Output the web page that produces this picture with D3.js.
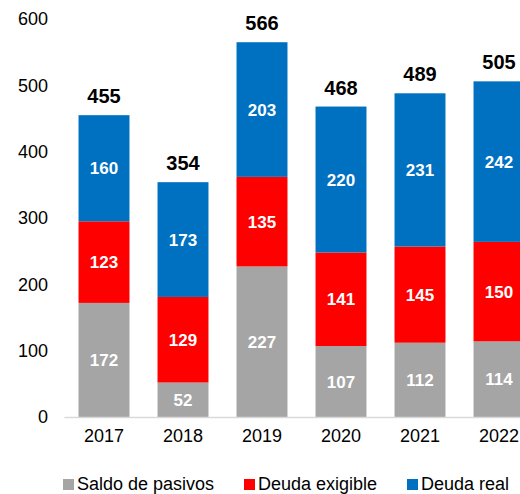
<!DOCTYPE html>
<html>
<head>
<meta charset="utf-8">
<script src="https://cdn.jsdelivr.net/npm/d3@7"></script>
<style>
  html, body { margin: 0; padding: 0; background: #fff; }
  svg { display: block; font-family: Arial, "Liberation Sans", sans-serif; }
</style>
</head>
<body>
<svg id="chart" width="520" height="494"></svg>
<script>
// Stacked composition by year
const years = ["2017", "2018", "2019", "2020", "2021", "2022"];
const saldoPasivos = [172, 52, 227, 107, 112, 114];
const deudaExigible = [123, 129, 135, 141, 145, 150];
const deudaReal = [160, 173, 203, 220, 231, 242];
const totals = [455, 354, 566, 468, 489, 505];
const seriesNames = ["Saldo de pasivos", "Deuda exigible", "Deuda real"];
const seriesColors = ["#A5A5A5", "#FF0000", "#0070C0"];
const yTicks = [0, 100, 200, 300, 400, 500, 600];

const svg = d3.select("#chart");
const plot = { left: 64.5, right: 538.5, top: 19, bottom: 417 };

const x = d3.scaleBand()
  .domain(years)
  .range([plot.left, plot.right])
  .paddingInner(0.355)
  .paddingOuter(0.1775);

const y = d3.scaleLinear()
  .domain([0, 600])
  .range([plot.bottom, plot.top]);

const rows = years.map((yr, i) => ({
  year: yr,
  s0: saldoPasivos[i],
  s1: deudaExigible[i],
  s2: deudaReal[i]
}));
const stack = d3.stack().keys(["s0", "s1", "s2"]);
const layers = stack(rows);

// bars
const g = svg.append("g");
layers.forEach((layer, li) => {
  const lg = g.append("g").attr("fill", seriesColors[li]);
  lg.selectAll("rect")
    .data(layer)
    .join("rect")
    .attr("x", d => x(d.data.year))
    .attr("width", x.bandwidth())
    .attr("y", d => y(d[1]))
    .attr("height", d => y(d[0]) - y(d[1]));

  // segment value labels
  g.append("g").selectAll("text")
    .data(layer)
    .join("text")
    .attr("x", d => x(d.data.year) + x.bandwidth() / 2)
    .attr("y", d => (y(d[0]) + y(d[1])) / 2)
    .attr("dy", "0.36em")
    .attr("text-anchor", "middle")
    .attr("fill", "#fff")
    .attr("font-weight", "bold")
    .attr("font-size", 17)
    .text(d => d[1] - d[0]);
});

// baseline
svg.append("line")
  .attr("x1", plot.left).attr("x2", plot.right)
  .attr("y1", y(0) + 0.5).attr("y2", y(0) + 0.5)
  .attr("stroke", "#D9D9D9")
  .attr("stroke-width", 1.5);

// total labels above each bar
svg.append("g").selectAll("text")
  .data(years)
  .join("text")
  .attr("x", d => x(d) + x.bandwidth() / 2)
  .attr("y", (d, i) => y(saldoPasivos[i] + deudaExigible[i] + deudaReal[i]) - 12)
  .attr("text-anchor", "middle")
  .attr("fill", "#000")
  .attr("font-weight", "bold")
  .attr("font-size", 20)
  .text((d, i) => totals[i]);

// y axis labels (no axis line)
const yAxis = d3.axisLeft(y).tickValues(yTicks).tickSize(0).tickPadding(0);
const ya = svg.append("g")
  .attr("transform", `translate(48,0)`)
  .call(yAxis);
ya.select(".domain").remove();
ya.selectAll("text")
  .attr("font-size", 18)
  .attr("font-family", "Arial, 'Liberation Sans', sans-serif")
  .attr("fill", "#000");

// x axis labels
const xAxis = d3.axisBottom(x).tickSize(0).tickPadding(0);
const xa = svg.append("g")
  .attr("transform", `translate(0,${plot.bottom + 12})`)
  .call(xAxis);
xa.select(".domain").remove();
xa.selectAll("text")
  .attr("font-size", 18)
  .attr("font-family", "Arial, 'Liberation Sans', sans-serif")
  .attr("fill", "#000");

// legend
const legendX = [63, 244, 407];
const legend = svg.append("g");
seriesNames.forEach((name, i) => {
  legend.append("rect")
    .attr("x", legendX[i]).attr("y", 479)
    .attr("width", 11).attr("height", 11)
    .attr("fill", seriesColors[i]);
  legend.append("text")
    .attr("x", legendX[i] + 14).attr("y", 490)
    .attr("font-size", 18)
    .attr("fill", "#000")
    .text(name);
});
</script>
</body>
</html>
